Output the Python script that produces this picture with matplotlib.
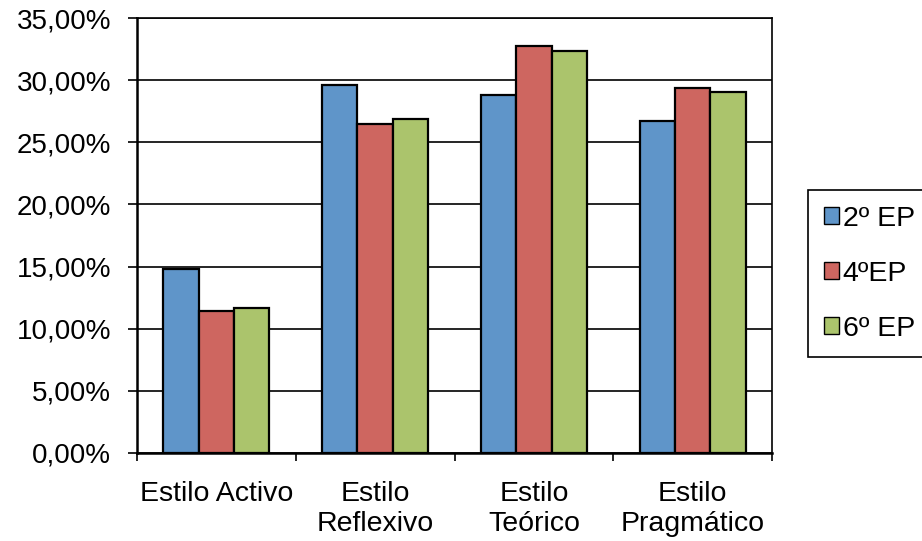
import matplotlib
matplotlib.use("Agg")
import matplotlib.pyplot as plt
import numpy as np
from matplotlib.ticker import FuncFormatter, FixedLocator

plt.rcParams['font.family'] = ['Liberation Sans', 'DejaVu Sans']

categories = ["Estilo Activo", "Estilo\nReflexivo", "Estilo\nTeórico", "Estilo\nPragmático"]
series_names = ["2º EP", "4ºEP", "6º EP"]
ep2 = [14.81, 29.60, 28.84, 26.75]
ep4 = [11.44, 26.48, 32.76, 29.38]
ep6 = [11.68, 26.90, 32.33, 29.06]
colors = ["#5F95C9", "#CE6660", "#ABC46C"]

fig = plt.figure(figsize=(9.22, 5.41), dpi=100)
ax = fig.add_axes([137/922, 1 - 453/541, (772-137)/922, (453-18)/541])

x = np.arange(len(categories))
w = 1/4.5
for i, (vals, name, c) in enumerate(zip([ep2, ep4, ep6], series_names, colors)):
    ax.bar(x + (i - 1) * w, vals, width=w, color=c, edgecolor='black',
           linewidth=1.6, label=name, zorder=3)

ax.set_xlim(-0.5, len(categories) - 0.5)
ax.set_ylim(0, 35)
ax.set_yticks(np.arange(0, 35.01, 5))
ax.yaxis.set_major_formatter(FuncFormatter(lambda v, p: f"{v:.2f}%".replace('.', ',')))
ax.yaxis.grid(True, color='black', linewidth=1.2, zorder=0)
ax.set_axisbelow(True)

# category labels centred, tick marks at category boundaries
ax.set_xticks(x)
ax.set_xticklabels(categories, fontsize=20.5, linespacing=1.2)
ax.tick_params(axis='x', which='major', length=0, pad=20)
ax.xaxis.set_minor_locator(FixedLocator(np.arange(-0.5, len(categories), 1)))
ax.tick_params(axis='x', which='minor', length=6, width=1.2, direction='out')
ax.tick_params(axis='y', length=6.5, width=1.2, direction='out', labelsize=20, pad=12)

for side in ['top', 'right']:
    ax.spines[side].set_visible(True)
    ax.spines[side].set_linewidth(1.2)
ax.spines['left'].set_linewidth(1.8)
ax.spines['bottom'].set_linewidth(1.8)

leg = fig.legend(loc='upper left', bbox_to_anchor=(808/922, 1 - 190/541),
                 fancybox=False, edgecolor='black', framealpha=1,
                 fontsize=20.5, handlelength=0.55, handleheight=0.55,
                 handletextpad=0.12, labelspacing=1.02, borderpad=0.55,
                 borderaxespad=0)
leg.get_frame().set_linewidth(1.2)
for h in leg.legend_handles:
    h.set_linewidth(1.0)

fig.savefig("out.png", dpi=100)
